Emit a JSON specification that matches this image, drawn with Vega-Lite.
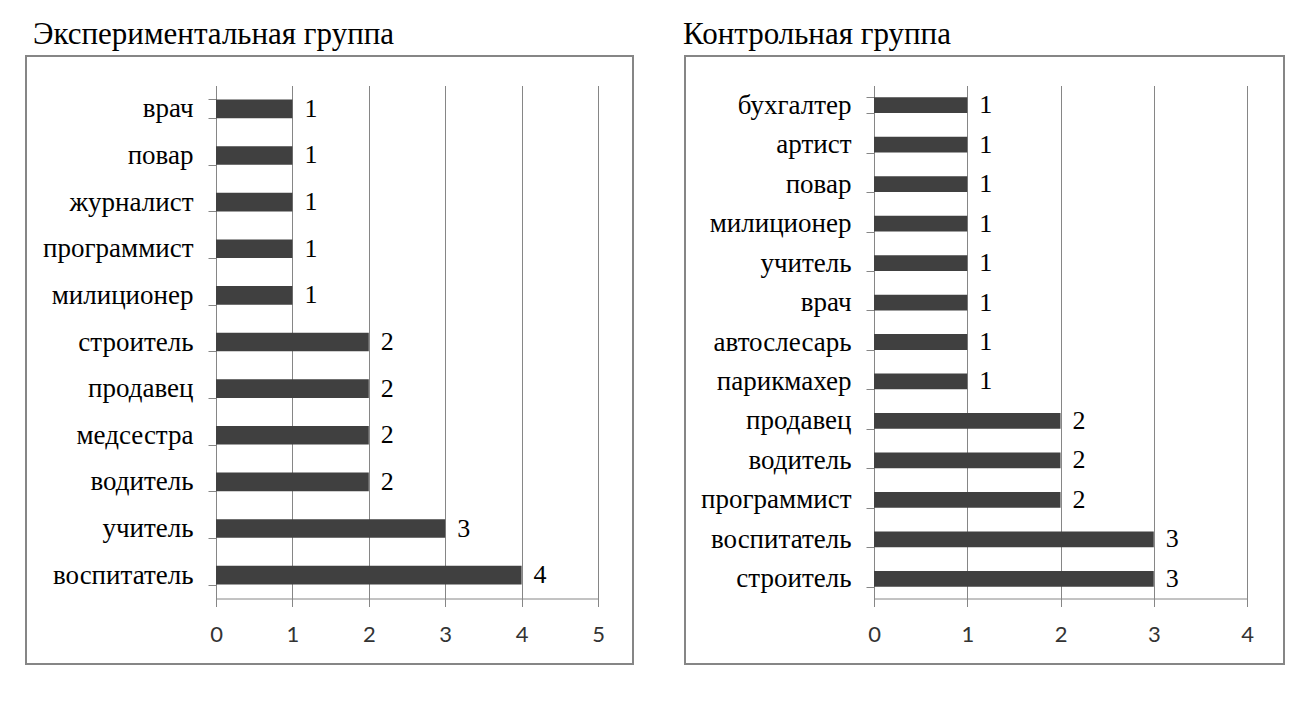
{
  "$schema": "https://vega.github.io/schema/vega-lite/v6.json",
  "padding": {"left": 25, "top": 17, "right": 0, "bottom": 0},
  "background": "white",
  "datasets": {
    "exp": [
      {"job": "врач", "n": 1},
      {"job": "повар", "n": 1},
      {"job": "журналист", "n": 1},
      {"job": "программист", "n": 1},
      {"job": "милиционер", "n": 1},
      {"job": "строитель", "n": 2},
      {"job": "продавец", "n": 2},
      {"job": "медсестра", "n": 2},
      {"job": "водитель", "n": 2},
      {"job": "учитель", "n": 3},
      {"job": "воспитатель", "n": 4}
    ],
    "ctrl": [
      {"job": "бухгалтер", "n": 1},
      {"job": "артист", "n": 1},
      {"job": "повар", "n": 1},
      {"job": "милиционер", "n": 1},
      {"job": "учитель", "n": 1},
      {"job": "врач", "n": 1},
      {"job": "автослесарь", "n": 1},
      {"job": "парикмахер", "n": 1},
      {"job": "продавец", "n": 2},
      {"job": "водитель", "n": 2},
      {"job": "программист", "n": 2},
      {"job": "воспитатель", "n": 3},
      {"job": "строитель", "n": 3}
    ]
  },
  "hconcat": [
    {
      "width": 607,
      "height": 608,
      "title": {"text": "Экспериментальная группа", "dx": 7},
      "data": {"name": "exp"},
      "resolve": {"axis": {"x": "independent"}},
      "encoding": {
        "y": {
          "field": "job", "type": "nominal", "sort": null,
          "scale": {"range": [29.5, 542.5], "paddingInner": 0.6, "paddingOuter": 0.3},
          "axis": {"offset": -190}
        }
      },
      "layer": [
        {"mark": {"type": "bar", "color": "#404040"},
         "encoding": {"x": {"field": "n", "type": "quantitative",
           "scale": {"domain": [0, 5], "range": [190, 572], "nice": false},
           "axis": {"orient": "top", "values": [0, 1, 2, 3, 4, 5], "grid": true, "domain": false, "ticks": false, "labels": false, "minExtent": 0, "maxExtent": 0}}}},
        {"mark": {"type": "text", "align": "left", "baseline": "middle", "dx": 12, "font": "Liberation Serif", "fontSize": 26, "color": "black"},
         "encoding": {
           "x": {"field": "n", "type": "quantitative",
             "axis": {"orient": "bottom", "offset": -65.5, "values": [0, 1, 2, 3, 4, 5], "grid": false}},
           "text": {"field": "n", "type": "quantitative"}}}
      ]
    },
    {
      "width": 599,
      "height": 608,
      "title": {"text": "Контрольная группа", "dx": -2},
      "data": {"name": "ctrl"},
      "resolve": {"axis": {"x": "independent"}},
      "encoding": {
        "y": {
          "field": "job", "type": "nominal", "sort": null,
          "scale": {"range": [29.5, 542.5], "paddingInner": 0.6, "paddingOuter": 0.3},
          "axis": {"offset": -189}
        }
      },
      "layer": [
        {"mark": {"type": "bar", "color": "#404040"},
         "encoding": {"x": {"field": "n", "type": "quantitative",
           "scale": {"domain": [0, 4], "range": [189, 562], "nice": false},
           "axis": {"orient": "top", "values": [0, 1, 2, 3, 4], "grid": true, "domain": false, "ticks": false, "labels": false, "minExtent": 0, "maxExtent": 0}}}},
        {"mark": {"type": "text", "align": "left", "baseline": "middle", "dx": 12, "font": "Liberation Serif", "fontSize": 26, "color": "black"},
         "encoding": {
           "x": {"field": "n", "type": "quantitative",
             "axis": {"orient": "bottom", "offset": -65.5, "values": [0, 1, 2, 3, 4], "grid": false}},
           "text": {"field": "n", "type": "quantitative"}}}
      ]
    }
  ],
  "spacing": 48,
  "config": {
    "view": {"stroke": "#868686", "strokeWidth": 2},
    "title": {"anchor": "start", "frame": "group", "font": "Liberation Serif", "fontSize": 31, "fontWeight": "normal", "color": "black", "offset": -8.5},
    "axisY": {
      "title": null, "grid": false, "domainColor": "#868686", "tickColor": "#868686", "tickSize": 8,
      "tickBand": "extent", "labelFont": "Liberation Serif", "labelFontSize": 27, "labelColor": "black", "labelPadding": 15, "labelLimit": 400
    },
    "axisX": {
      "title": null, "gridColor": "#868686", "domainColor": "#868686", "tickColor": "#868686", "tickSize": 8,
      "labelFont": "Lato", "labelFontSize": 22, "labelColor": "#333333", "labelPadding": 18, "labelFlush": false
    }
  }
}
